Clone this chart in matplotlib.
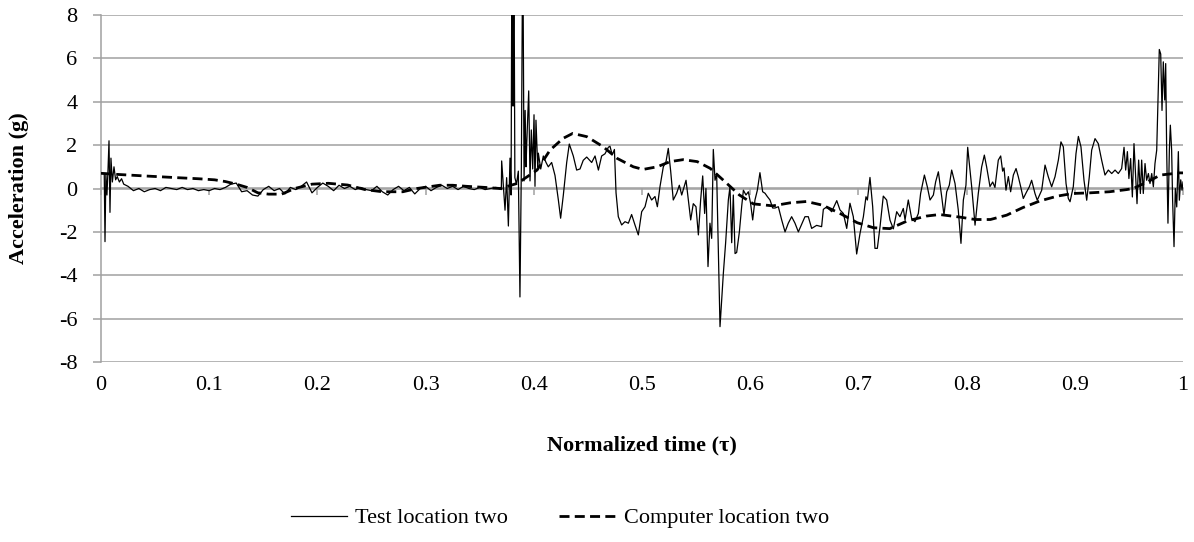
import matplotlib
matplotlib.use("Agg")
import matplotlib.pyplot as plt
import numpy as np

plt.rcParams['font.family'] = ['Liberation Serif', 'DejaVu Serif']
plt.rcParams['axes.unicode_minus'] = False

# ---------------- data ----------------
# Test location two (measured)
t_test = [
    0.0, 0.003, 0.0037, 0.0045, 0.0055, 0.0065, 0.0074, 0.0083, 0.0092, 0.0105,
    0.012, 0.0135, 0.015, 0.017, 0.019, 0.021,
    0.025, 0.03, 0.035, 0.04, 0.045, 0.05, 0.055, 0.06, 0.065, 0.07,
    0.075, 0.08, 0.085, 0.09, 0.095, 0.10, 0.105, 0.11, 0.115, 0.12,
    0.125, 0.13, 0.135, 0.14, 0.145, 0.15, 0.155, 0.16, 0.165, 0.17,
    0.175, 0.18, 0.185, 0.19, 0.195, 0.20, 0.205, 0.21, 0.215, 0.22,
    0.225, 0.23, 0.235, 0.24, 0.245, 0.25, 0.255, 0.26, 0.265, 0.27,
    0.275, 0.28, 0.285, 0.29, 0.295, 0.30, 0.305, 0.31, 0.315, 0.32,
    0.325, 0.33, 0.335, 0.34, 0.345, 0.35, 0.355, 0.36, 0.365, 0.37,
    0.3703, 0.3734, 0.3749, 0.3765, 0.378, 0.379, 0.3798, 0.3808, 0.3816, 0.3825,
    0.384, 0.3857, 0.3872, 0.3885, 0.3898, 0.391, 0.392, 0.3928, 0.3935, 0.3953,
    0.3965, 0.3977, 0.399, 0.4002, 0.4011, 0.402, 0.4036, 0.4042, 0.4064, 0.4088,
    0.4113, 0.4134, 0.4165, 0.4196, 0.4227, 0.4248, 0.4273, 0.4304, 0.4328, 0.4365,
    0.4396, 0.4427, 0.4457, 0.4489,
    0.4535, 0.4566, 0.4597, 0.4627, 0.4658, 0.4689, 0.4704, 0.4725, 0.4745, 0.476, 0.4781,
    0.4812, 0.4843, 0.4874, 0.4904, 0.4935, 0.4966, 0.4997, 0.5028, 0.5058, 0.5089,
    0.512, 0.5142, 0.5166, 0.5197, 0.5222, 0.5243, 0.5265, 0.5289, 0.532, 0.5345,
    0.5367, 0.5407, 0.5428, 0.545, 0.5474, 0.5499, 0.5521, 0.5542, 0.5561, 0.5579,
    0.5591, 0.561, 0.5628, 0.5644, 0.5659, 0.5675, 0.569, 0.5721, 0.5752, 0.5773,
    0.5798, 0.5813, 0.5829, 0.5844, 0.586, 0.5875, 0.59, 0.5921, 0.5937, 0.5961,
    0.5983, 0.6004, 0.6023, 0.6044, 0.6066, 0.609, 0.6115, 0.6137, 0.6158, 0.6183,
    0.6208, 0.6229, 0.626, 0.6291, 0.6322, 0.6352, 0.6383, 0.6414, 0.6445,
    0.6506, 0.6537, 0.6568, 0.6614, 0.666, 0.6676, 0.6707, 0.6753, 0.68, 0.683,
    0.6861, 0.6892, 0.6922, 0.6953, 0.6984, 0.7015, 0.7046, 0.707, 0.7083, 0.7107,
    0.7132, 0.7153, 0.7175, 0.72, 0.723, 0.7261, 0.7292, 0.7323, 0.7354, 0.7384,
    0.7415, 0.7431, 0.7461, 0.7492, 0.7523, 0.7554, 0.7575, 0.761, 0.7637, 0.7662,
    0.7693, 0.7714, 0.7739, 0.777, 0.7791, 0.7816, 0.784, 0.7862, 0.7893, 0.7923,
    0.7948, 0.797, 0.7994, 0.801, 0.8047, 0.8078, 0.8108, 0.8139, 0.8164, 0.8185,
    0.8216,
    0.8241, 0.8262, 0.8293, 0.8315, 0.8333, 0.8346, 0.8364, 0.8386, 0.8407, 0.8432,
    0.8457, 0.8478, 0.85, 0.8524, 0.8555, 0.858, 0.8601, 0.8632, 0.8653, 0.8694,
    0.8725, 0.8755, 0.8786, 0.8817, 0.8848, 0.8872, 0.8894, 0.8919, 0.894, 0.8956,
    0.8986, 0.9011, 0.9033, 0.9057, 0.9085, 0.911, 0.9134, 0.9156, 0.9187, 0.9217,
    0.9248, 0.9279, 0.931, 0.9341, 0.9372, 0.9402, 0.9433, 0.9455, 0.947, 0.9486,
    0.95, 0.9516, 0.9532, 0.9547, 0.9563, 0.9575, 0.959, 0.9606, 0.9618, 0.9633,
    0.9649, 0.9664, 0.968, 0.9695, 0.9711, 0.9726, 0.9741, 0.9757, 0.9769, 0.9781,
    0.9794, 0.9806, 0.9818, 0.9831, 0.984, 0.9849, 0.9861, 0.9874, 0.9883, 0.9895,
    0.9904, 0.9917, 0.9929, 0.9942, 0.9957, 0.9966, 0.9979, 0.9991, 1.0,
]
a_test = [
    0.7, 0.7, -2.45, 0.7, -0.3, 0.9, 2.2, -1.1, 1.4, 0.3,
    1.0, 0.4, 0.55, 0.3, 0.45, 0.2,
    0.1, -0.1, 0.0, -0.15, -0.05, 0.0, -0.1, 0.05, 0.0, -0.05,
    0.05, -0.05, 0.0, -0.1, -0.05, -0.1, 0.0, -0.05, 0.05, 0.2,
    0.25, -0.15, -0.1, -0.3, -0.35, -0.05, 0.1, -0.1, 0.0, -0.25,
    0.05, -0.05, 0.1, 0.3, -0.2, 0.05, 0.25, 0.1, -0.1, 0.15,
    0.0, 0.1, -0.05, 0.05, -0.05, -0.1, 0.1, -0.15, -0.3, -0.05,
    0.1, -0.1, 0.05, -0.25, 0.0, 0.1, -0.1, 0.05, 0.15, 0.0,
    0.1, -0.05, 0.1, 0.0, -0.05, 0.05, -0.05, 0.0, 0.05, -0.05,
    1.27, -1.0, 0.5, -1.73, 1.4, -0.3, 12.0, 3.8, 12.0, 0.5,
    0.2, 0.8, -5.0, 1.0, 12.0, 0.35, 3.6, 1.0, 2.1, 4.5,
    0.35, 2.7, 0.9, 3.4, 0.1, 3.15, 1.0, 1.63, 0.9, 1.5,
    1.2, 1.0, 1.2, 0.6, -0.53, -1.37, -0.3, 1.2, 2.05, 1.5,
    0.85, 0.9, 1.3, 1.45,
    1.2, 1.5, 0.85, 1.5, 1.6, 1.9, 1.95, 1.55, 1.8, -0.2, -1.3,
    -1.68, -1.53, -1.6, -1.2, -1.68, -2.14, -1.07, -0.84, -0.22, -0.53,
    -0.37, -0.84, 0.08, 1.0, 1.24, 1.85, 0.8, -0.53, -0.22, 0.15,
    -0.3, 0.38, -0.53, -1.45, -0.7, -0.84, -2.14, -0.53, 0.58, -1.15,
    0.0, -3.6, -1.6, -2.3, 1.8, 0.38, 0.68, -6.37, -3.9, -2.5,
    -0.53, 0.08, -2.5, -0.3, -3.0, -2.95, -2.0, -0.84, -0.08, -0.3,
    -0.15, -0.7, -1.45, -0.53, -0.08, 0.73, -0.15, -0.22, -0.37, -0.53,
    -0.9, -0.9, -0.84, -1.45, -2.0, -1.6, -1.3, -1.6, -2.0,
    -1.3, -1.3, -1.84, -1.7, -1.76, -0.96, -0.85, -1.07, -0.56, -0.99,
    -1.15, -1.84, -0.68, -1.3, -3.02, -2.07, -1.3, -0.38, -0.53, 0.51,
    -0.84, -2.76, -2.76, -1.76, -0.35, -0.53, -1.46, -1.86, -1.07, -1.3,
    -0.92, -1.45, -0.53, -1.38, -1.53, -1.15, -0.23, 0.62, 0.08, -0.53,
    -0.3, 0.31, 0.77, -0.38, -1.23, -0.15, 0.15, 0.85, 0.23, -0.99,
    -2.53, -0.53, 0.15, 1.9, 0.08, -1.69, -0.23, 0.99, 1.54, 1.0,
    0.09,
    0.3, 0.05, 1.31, 1.5, 0.8, 0.95, -0.08, 0.55, -0.15, 0.62,
    0.92, 0.54, 0.08, -0.46, -0.15, 0.08, 0.38, -0.23, -0.54, -0.08,
    1.08, 0.54, 0.08, 0.54, 1.31, 2.15, 1.92, 0.23, -0.46, -0.61,
    0.08, 1.61, 2.4, 1.92, 0.38, -0.54, 0.54, 1.77, 2.3, 2.07,
    1.31, 0.62, 0.85, 0.69, 0.85, 0.69, 0.92, 1.9, 0.85, 1.7,
    0.46, 1.38, -0.39, 2.07, 0.54, -0.7, 1.31, -0.23, 1.31, -0.23,
    1.15, 0.38, 0.69, 0.23, 0.69, 0.08, 1.15, 1.77, 4.08, 6.41,
    6.2, 3.6, 5.84, 4.08, 5.76, 1.77, -1.6, 1.77, 2.92, 1.77,
    -0.54, -2.68, 0.0, -0.85, 1.7, -0.54, 0.4, -0.08, 0.3,
]

# Computer location two (simulation)
t_comp = [
    0.0, 0.015, 0.04, 0.07, 0.09, 0.105, 0.115, 0.125, 0.135, 0.145,
    0.155, 0.167, 0.179, 0.195, 0.21, 0.228, 0.244, 0.26, 0.279, 0.292,
    0.313, 0.325, 0.338, 0.355, 0.369, 0.385, 0.403, 0.415, 0.427, 0.436,
    0.449, 0.464, 0.477, 0.492, 0.501, 0.514, 0.526, 0.538, 0.551, 0.563,
    0.577, 0.59, 0.603, 0.621, 0.637, 0.652, 0.667, 0.683, 0.699, 0.714,
    0.729, 0.745, 0.763, 0.775, 0.794, 0.808, 0.822, 0.837, 0.852, 0.868,
    0.884, 0.898, 0.914, 0.932, 0.948, 0.954, 0.967, 0.979, 0.997, 1.0,
]
a_comp = [
    0.7, 0.65, 0.58, 0.5, 0.45, 0.4, 0.32, 0.2, 0.05, -0.2,
    -0.26, -0.26, 0.0, 0.2, 0.24, 0.16, -0.05, -0.15, -0.15, 0.0,
    0.15, 0.15, 0.1, 0.05, 0.0, 0.24, 0.85, 1.77, 2.31, 2.54,
    2.39, 1.93, 1.39, 1.0, 0.88, 1.0, 1.24, 1.33, 1.24, 0.93,
    0.3, -0.3, -0.71, -0.8, -0.66, -0.6, -0.77, -1.15, -1.58, -1.81,
    -1.85, -1.5, -1.27, -1.2, -1.32, -1.43, -1.43, -1.23, -0.88, -0.57,
    -0.35, -0.23, -0.2, -0.15, -0.05, 0.0, 0.3, 0.62, 0.72, 0.72,
]

x_ticks = [0, 0.1, 0.2, 0.3, 0.4, 0.5, 0.6, 0.7, 0.8, 0.9, 1]
x_tick_labels = ["0", "0.1", "0.2", "0.3", "0.4", "0.5", "0.6", "0.7", "0.8", "0.9", "1"]
y_ticks = [-8, -6, -4, -2, 0, 2, 4, 6, 8]
y_tick_labels = ["-8", "-6", "-4", "-2", "0", "2", "4", "6", "8"]

# ---------------- figure ----------------
W, H = 1194, 542
fig = plt.figure(figsize=(W / 100, H / 100), dpi=100)
L, R, T, B = 101, 1183, 15, 362
ax = fig.add_axes([L / W, 1 - B / H, (R - L) / W, (B - T) / H])

grid_c = '#a0a0a0'
fs = 16

ax.plot(t_test, a_test, color='black', lw=0.9, label='Test location two', zorder=3)
ax.plot(t_comp, a_comp, color='black', lw=2.0, dashes=(3.6, 1.9),
        label='Computer location two', zorder=4)

ax.set_xlim(0, 1)
ax.set_ylim(-8, 8)
ax.set_xticks(x_ticks)
ax.set_xticklabels(x_tick_labels)
ax.set_yticks(y_ticks)
ax.set_yticklabels(y_tick_labels)

ax.set_axisbelow(True)
ax.grid(axis='y', color=grid_c, lw=1.1)
ax.grid(axis='x', visible=False)
for s in ['top', 'right', 'bottom']:
    ax.spines[s].set_visible(False)
ax.spines['left'].set_color(grid_c)
ax.spines['left'].set_linewidth(1.1)

ax.tick_params(axis='y', direction='out', length=6, width=1.1, color=grid_c,
               pad=11, labelsize=fs, labelcolor='black')
ax.tick_params(axis='x', length=0, pad=10, labelsize=fs, labelcolor='black')

# horizontal axis line with tick marks at y = 0 (marks hang below the line)
sec = ax.secondary_xaxis(0.5)
sec.set_xticks(x_ticks)
sec.set_xticklabels([])
sec.tick_params(axis='x', direction='in', length=5, width=1.1, color=grid_c)
for s in sec.spines.values():
    s.set_color(grid_c)
    s.set_linewidth(1.1)

ax.set_ylabel('Acceleration (g)', fontsize=fs, fontweight='bold')
ax.yaxis.set_label_coords((19 - L) / (R - L), 0.5)
ax.yaxis.label.set_va('center')
ax.set_xlabel('Normalized time (τ)', fontsize=fs, fontweight='bold')
ax.xaxis.set_label_coords(0.5, (B - 445) / (B - T))
ax.xaxis.label.set_va('center')

fig.legend(loc='center', bbox_to_anchor=(560 / W, 1 - 518 / H), ncol=2,
           frameon=False, fontsize=fs, handlelength=2.5, handletextpad=0.4,
           columnspacing=2.3)

fig.savefig('out.png', dpi=100)
